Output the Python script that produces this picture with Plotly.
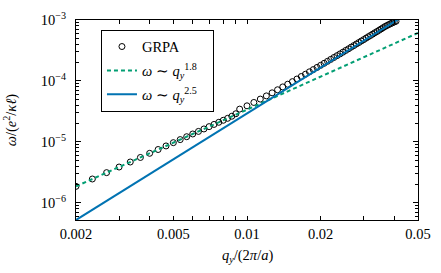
import plotly.graph_objects as go

# ---- data ----
q_grpa = [0.002, 0.002333, 0.002667, 0.003, 0.003333, 0.003667, 0.004, 0.004333,
          0.004667, 0.005, 0.005333, 0.005667, 0.006, 0.006333, 0.006667, 0.007,
          0.007333, 0.007667, 0.008, 0.008333, 0.008667, 0.009,
          0.009333, 0.01, 0.010667, 0.011333, 0.012, 0.012667, 0.013333, 0.014,
          0.014667, 0.015333, 0.016, 0.016667, 0.017333, 0.018, 0.018667, 0.019333,
          0.02, 0.020667, 0.021333, 0.022, 0.022667, 0.023333, 0.024, 0.024667,
          0.025333, 0.026, 0.026667, 0.027333, 0.028, 0.028667, 0.029333, 0.03,
          0.030667, 0.031333, 0.032, 0.032667, 0.033333, 0.034, 0.034667, 0.035333,
          0.036, 0.036667, 0.037333, 0.038, 0.038667, 0.039333, 0.04, 0.040667]
w_grpa = [1.870e-6, 2.469e-6, 3.139e-6, 3.880e-6, 4.691e-6, 5.568e-6, 6.512e-6, 7.520e-6,
          8.597e-6, 9.732e-6, 1.093e-5, 1.219e-5, 1.351e-5, 1.489e-5, 1.633e-5, 1.783e-5,
          1.939e-5, 2.100e-5, 2.268e-5, 2.441e-5, 2.64e-5, 2.90e-5,
          3.456e-5, 3.913e-5, 4.443e-5, 5.046e-5, 5.692e-5, 6.389e-5, 7.176e-5, 7.991e-5,
          8.849e-5, 9.747e-5, 1.077e-4, 1.184e-4, 1.291e-4, 1.414e-4, 1.538e-4, 1.667e-4,
          1.807e-4, 1.948e-4, 2.101e-4, 2.261e-4, 2.428e-4, 2.601e-4, 2.780e-4, 2.967e-4,
          3.171e-4, 3.371e-4, 3.592e-4, 3.807e-4, 4.044e-4, 4.274e-4, 4.526e-4, 4.771e-4,
          5.041e-4, 5.319e-4, 5.586e-4, 5.882e-4, 6.185e-4, 6.475e-4, 6.798e-4, 7.130e-4,
          7.470e-4, 7.822e-4, 8.12e-4, 8.42e-4, 8.72e-4, 9.00e-4, 9.28e-4, 9.55e-4]

q_fit18 = [0.002, 0.05]
w_fit18 = [1.870e-6, 6.137e-4]
q_fit25 = [0.002, 0.05]
w_fit25 = [5.243e-7, 1.638e-3]

x_tickvals = [0.002, 0.005, 0.01, 0.02, 0.05]
x_ticktext = ["0.002", "0.005", "0.01", "0.02", "0.05"]
x_minor = [0.003, 0.004, 0.006, 0.007, 0.008, 0.009, 0.03, 0.04]
y_tickvals = [1e-6, 1e-5, 1e-4, 1e-3]
y_ticktext = ["10<sup>−6</sup>", "10<sup>−5</sup>", "10<sup>−4</sup>", "10<sup>−3</sup>"]
y_minor = [k * 10.0 ** e for e in (-7, -6, -5, -4) for k in range(2, 10)]

FONT = "Liberation Serif, Times New Roman, serif"
FS = 14.5
GREEN = "#029E73"
BLUE = "#0173B2"
NB = "\u00a0"

fig = go.Figure()
fig.add_trace(go.Scatter(
    x=q_grpa, y=w_grpa, mode="markers", name="GRPA", legendgroup="a",
    marker=dict(symbol="circle-open", size=6, color="black", line=dict(width=1)),
))
fig.add_trace(go.Scatter(
    x=q_fit18, y=w_fit18, mode="lines", legendgroup="b",
    name="<i>ω</i> ∼ <i>q</i><sub><i>y</i></sub><sup>1.8</sup>" + NB * 3,
    line=dict(color=GREEN, width=2, dash="4px,3px"),
))
fig.add_trace(go.Scatter(
    x=q_fit25, y=w_fit25, mode="lines", legendgroup="c",
    name="<i>ω</i> ∼ <i>q</i><sub><i>y</i></sub><sup>2.5</sup>" + NB * 3,
    line=dict(color=BLUE, width=2),
))

axis_common = dict(
    type="log", showgrid=False, zeroline=False, showline=True,
    linecolor="black", linewidth=1, mirror="ticks", ticks="inside",
    tickcolor="black", tickwidth=1,
    tickfont=dict(family=FONT, size=FS, color="black"),
)
fig.update_xaxes(
    **axis_common, range=[-2.69897, -1.30103], tickmode="array",
    tickvals=x_tickvals, ticktext=x_ticktext, ticklen=4,
    minor=dict(tickvals=x_minor, ticks="inside", ticklen=4, tickcolor="black", showgrid=False),
    ticklabelstandoff=1,
)
fig.update_yaxes(
    **axis_common, range=[-6.28, -3.0], tickmode="array",
    tickvals=y_tickvals, ticktext=y_ticktext, ticklen=5,
    minor=dict(tickvals=y_minor, ticks="inside", ticklen=3, tickcolor="black", showgrid=False),
    ticklabelstandoff=6,
)

fig.update_layout(
    width=441, height=273,
    margin=dict(l=76, r=15, t=10, b=53),
    paper_bgcolor="white", plot_bgcolor="white",
    font=dict(family=FONT, size=FS, color="black"),
    showlegend=True,
    legend=dict(
        x=0.073, y=0.952, xanchor="left", yanchor="top",
        bgcolor="white", bordercolor="black", borderwidth=1,
        font=dict(family=FONT, size=FS, color="black"),
        itemwidth=30, tracegroupgap=2,
    ),
    annotations=[
        dict(text="<i>q</i><sub><i>y</i></sub>/(2<i>π</i>/<i>a</i>)",
             xref="paper", yref="paper", x=0.5, y=-0.18,
             xanchor="center", yanchor="middle", showarrow=False,
             font=dict(family=FONT, size=FS, color="black")),
        dict(text="<i>ω</i>/(<i>e</i><sup>2</sup>/<i>κℓ</i>)",
             xref="paper", yref="paper", x=-0.192, y=0.5, textangle=-90,
             xanchor="center", yanchor="middle", showarrow=False,
             font=dict(family=FONT, size=FS, color="black")),
    ],
)

fig.write_html("out.html", config={"displayModeBar": False},
               post_script="document.body.style.margin='0px';")
